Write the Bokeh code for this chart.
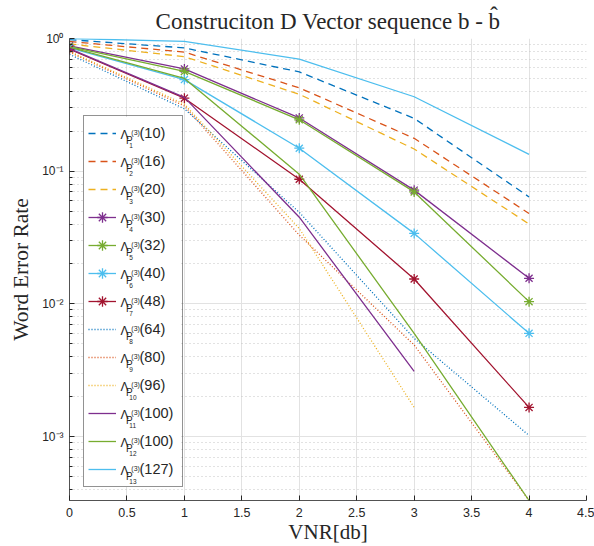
from bokeh.plotting import figure
from bokeh.models import (Range1d, FixedTicker, CustomJSTickFormatter, Legend,
                          LegendItem, Label, BoxAnnotation)
from bokeh.embed import file_html
from bokeh.resources import INLINE

# ---------------- data ----------------
vnr = [0, 1, 2, 3, 4]

series_index = ["1", "2", "3", "4", "5", "6", "7", "8", "9", "10", "11", "12", "13"]
series_label = ["(10)", "(16)", "(20)", "(30)", "(32)", "(40)", "(48)",
                "(64)", "(80)", "(96)", "(100)", "(100)", "(127)"]

wer_10 = [0.98, 0.85, 0.56, 0.25, 0.064]
wer_16 = [0.95, 0.79, 0.425, 0.177, 0.048]
wer_20 = [0.91, 0.73, 0.38, 0.147, 0.040]
wer_30 = [0.88, 0.59, 0.252, 0.072, 0.0156]
wer_32 = [0.87, 0.565, 0.244, 0.0698, 0.0104]
wer_40 = [0.85, 0.49, 0.149, 0.034, 0.006]
wer_48 = [0.83, 0.355, 0.087, 0.0154, 0.00166]
wer_64 = [0.76, 0.295, 0.049, 0.0055, 0.00102]
wer_80 = [0.79, 0.31, 0.033, 0.0049, 0.00033]
wer_96 = [0.80, 0.32, 0.037, 0.00166]
wer_100a = [0.84, 0.36, 0.045, 0.0031]
wer_100b = [0.86, 0.50, 0.095, 0.006, 0.00033]
wer_127 = [1.0, 0.95, 0.70, 0.364, 0.134]

all_wer = [wer_10, wer_16, wer_20, wer_30, wer_32, wer_40, wer_48,
           wer_64, wer_80, wer_96, wer_100a, wer_100b, wer_127]

x_ticks = [0, 0.5, 1, 1.5, 2, 2.5, 3, 3.5, 4, 4.5]
y_ticks = [1e-3, 1e-2, 1e-1, 1.0]

# ---------------- styles ----------------
colors = ["#0072BD", "#D95319", "#EDB120", "#7E2F8E", "#77AC30", "#4DBEEE", "#A2142F",
          "#0072BD", "#D95319", "#EDB120", "#7E2F8E", "#77AC30", "#4DBEEE"]
dashes = ["7 5"] * 3 + ["solid"] * 4 + ["1 2"] * 3 + ["solid"] * 3
stars = [False] * 3 + [True] * 4 + [False] * 6

SANS = "Liberation Sans"
SERIF = "Liberation Serif"
AX = "#262626"

y_lo, y_hi = 3.3e-4, 1.0

p = figure(width=594, height=546, x_range=Range1d(0, 4.5), y_range=Range1d(y_lo, y_hi),
           y_axis_type="log", output_backend="svg", toolbar_location=None,
           min_border_left=69, min_border_right=8, min_border_top=38, min_border_bottom=46)
p.outline_line_color = None
p.background_fill_color = "white"
p.title.text = "Construciton D Vector sequence b - b\u0302"
p.title.text_font = SERIF
p.title.text_font_size = "23px"
p.title.text_font_style = "normal"
p.title.align = "center"
p.title.text_color = AX
p.title.standoff = 10

# axes
xt = FixedTicker(ticks=x_ticks)
minor = []
for e in range(-4, 0):
    for k in range(2, 10):
        v = k * 10.0 ** e
        if y_lo <= v <= y_hi:
            minor.append(v)
yt = FixedTicker(ticks=y_ticks, minor_ticks=minor)
p.xaxis.ticker = xt
p.xgrid[0].ticker = xt
p.yaxis.ticker = yt
p.ygrid[0].ticker = yt

p.xaxis.formatter = CustomJSTickFormatter(code="return String(tick);")
p.yaxis.formatter = CustomJSTickFormatter(code="""
const sup = {'0':'\u2070','1':'\u00b9','2':'\u00b2','3':'\u00b3','4':'\u2074','-':'\u207b'};
const e = Math.round(Math.log10(tick));
return '10' + String(e).split('').map(c => sup[c]).join('');
""")

for ax in (p.xaxis[0], p.yaxis[0]):
    ax.axis_line_color = AX
    ax.axis_line_width = 0.8
    ax.major_tick_line_color = AX
    ax.minor_tick_line_color = AX
    ax.major_tick_in = 5
    ax.major_tick_out = 0
    ax.minor_tick_in = 3
    ax.minor_tick_out = 0
    ax.major_label_text_font = SANS
    ax.major_label_text_color = AX
    ax.axis_label_text_font = SERIF
    ax.axis_label_text_font_style = "normal"
    ax.axis_label_text_color = AX

p.xaxis.major_label_text_font_size = "12.5px"
p.yaxis.major_label_text_font_size = "12px"
p.xaxis.axis_label_text_font_size = "21px"
p.yaxis.axis_label_text_font_size = "21.5px"
p.xaxis.major_label_standoff = 7
p.xaxis.axis_label_standoff = 0
p.yaxis.major_label_standoff = 6
p.yaxis.axis_label_standoff = 6
p.xaxis.axis_label = "VNR[db]"
p.yaxis.axis_label = "Word Error Rate"

p.xgrid.grid_line_color = "#e2e2e2"
p.ygrid.grid_line_color = "#e2e2e2"
p.ygrid.minor_grid_line_color = "#c4c4c4"
p.ygrid.minor_grid_line_dash = "1 3"

# ---------------- series ----------------
items = []
for i, w in enumerate(all_wer):
    xs = vnr[:len(w)]
    r = [p.line(xs, w, line_color=colors[i], line_width=1.3, line_dash=dashes[i])]
    if stars[i]:
        r.append(p.scatter(xs, w, marker="asterisk", size=10, line_color=colors[i],
                           line_width=1.3))
    items.append(LegendItem(label=series_label[i], renderers=r))

# ---------------- legend ----------------
pad, gh, gw, sp, stand, lw = 4, 26, 28, 2, 24, 38
n = len(items)
leg_x, leg_y = 13.5, 13.5
leg_h = 2 * pad + n * gh + (n - 1) * sp
leg_w = 2 * pad + gw + stand + lw

# white backing box (the legend itself is transparent so the name parts show)
p.add_layout(BoxAnnotation(left=leg_x, right=leg_x + leg_w, bottom=leg_y, top=leg_y + leg_h,
                           left_units="screen", right_units="screen",
                           bottom_units="screen", top_units="screen",
                           fill_color="white", fill_alpha=1.0, line_color=None))

for i in range(n):
    yc = leg_y + leg_h - pad - gh / 2 - i * (gh + sp)
    xl = leg_x
    parts = [
        ("\u039b", xl + 37.5, yc - 1, "12px"),
        ("P", xl + 43, yc - 6.5, "10px"),
        ("(3)", xl + 48.3, yc + 1.5, "7px"),
        (series_index[i], xl + 46.3, yc - 11.5, "6.5px"),
    ]
    for txt, lx, ly, fs in parts:
        p.add_layout(Label(x=lx, y=ly, x_units="screen", y_units="screen", text=txt,
                           text_font=SANS, text_font_size=fs, text_color=AX,
                           text_baseline="alphabetic"))

legend = Legend(items=items, location=(leg_x, leg_y), padding=pad, spacing=sp,
                glyph_width=gw, glyph_height=gh, label_height=gh, label_width=lw,
                label_standoff=stand, margin=0,
                label_text_font=SANS, label_text_font_size="14.5px",
                label_text_color=AX, label_text_baseline="alphabetic",
                border_line_color=AX, border_line_width=0.8,
                background_fill_alpha=0.0)
p.add_layout(legend)

open("out.html", "w").write(file_html(p, INLINE))
